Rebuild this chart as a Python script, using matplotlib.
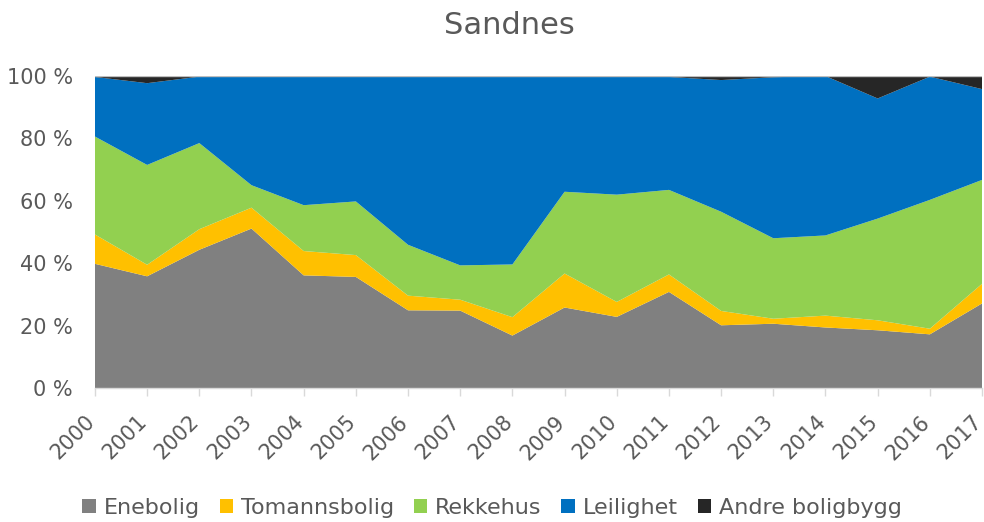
import matplotlib
matplotlib.use("Agg")
import matplotlib.pyplot as plt
import matplotlib.transforms as mtransforms
import numpy as np
from matplotlib.patches import Patch
from matplotlib.ticker import FuncFormatter

years = [str(y) for y in range(2000, 2018)]
enebolig = [39.8, 35.8, 44.3, 51.1, 36.1, 35.6, 24.9, 24.8, 16.8, 25.8, 22.8, 30.8, 20.1, 20.6, 19.4, 18.5, 17.2, 27.1]
tomannsbolig = [9.4, 3.7, 6.6, 6.7, 7.8, 7.0, 4.7, 3.5, 5.9, 10.9, 4.8, 5.6, 4.6, 1.6, 3.8, 3.2, 1.8, 6.3]
rekkehus = [31.4, 32.0, 27.6, 7.2, 14.7, 17.2, 16.3, 11.0, 16.9, 26.2, 34.4, 27.1, 31.8, 25.8, 25.7, 32.6, 41.3, 33.3]
leilighet = [19.1, 26.2, 21.3, 35.0, 41.4, 40.2, 54.1, 60.7, 60.4, 37.1, 38.0, 36.2, 42.2, 51.6, 51.1, 38.5, 39.5, 29.1]
andre = [0.3, 2.3, 0.2, 0.0, 0.0, 0.0, 0.0, 0.0, 0.0, 0.0, 0.05, 0.3, 1.3, 0.4, 0.0, 7.2, 0.2, 4.2]

series_names = ["Enebolig", "Tomannsbolig", "Rekkehus", "Leilighet", "Andre boligbygg"]
colors = ["#808080", "#FFC000", "#92D050", "#0070C0", "#262626"]

plt.rcParams['font.family'] = ['DejaVu Sans']
text_color = "#595959"

data = np.array([enebolig, tomannsbolig, rekkehus, leilighet, andre], dtype=float)
pct = data / data.sum(axis=0) * 100
x = np.arange(len(years))

fig = plt.figure(figsize=(9.84, 5.22), dpi=100)
ax = fig.add_axes([0.0965, 0.2567, 0.9015, 0.5977])
ax.stackplot(x, pct, colors=colors, linewidth=0)

ax.set_xlim(x[0], x[-1])
ax.set_ylim(0, 100)
ax.set_yticks([0, 20, 40, 60, 80, 100])
ax.yaxis.set_major_formatter(FuncFormatter(lambda v, p: f"{int(v)} %"))
ax.set_xticks(x)
ax.set_xticklabels([])

# rotated year labels, anchored at their baseline end just right of each tick
lbl_trans = ax.get_xaxis_transform() + mtransforms.ScaledTranslation(1 / 100, -35 / 100, fig.dpi_scale_trans)
for xi, yr in zip(x, years):
    ax.text(xi, 0, yr, transform=lbl_trans, rotation=45, ha='right', va='baseline',
            rotation_mode='anchor', fontsize=15, color=text_color, clip_on=False)

for s in ['left', 'right', 'top']:
    ax.spines[s].set_visible(False)
ax.spines['bottom'].set_color('#D9D9D9')
ax.spines['bottom'].set_linewidth(1.0)
ax.axhline(100, color='#BFBFBF', linewidth=1.0, zorder=3)

ax.tick_params(axis='y', length=0, pad=16, labelsize=15, labelcolor=text_color)
ax.tick_params(axis='x', length=6, width=1, color='#D9D9D9')

fig.text(0.518, 0.952, "Sandnes", ha='center', va='center', fontsize=22, color=text_color)

handles = [Patch(facecolor=c, edgecolor='none') for c in colors]
fig.legend(handles, series_names, loc='center', bbox_to_anchor=(0.5, 0.027), ncol=5,
           frameon=False, fontsize=16, handlelength=0.6, handleheight=0.6,
           handletextpad=0.35, columnspacing=0.9, labelcolor=text_color)

fig.savefig("out.png", dpi=100)
